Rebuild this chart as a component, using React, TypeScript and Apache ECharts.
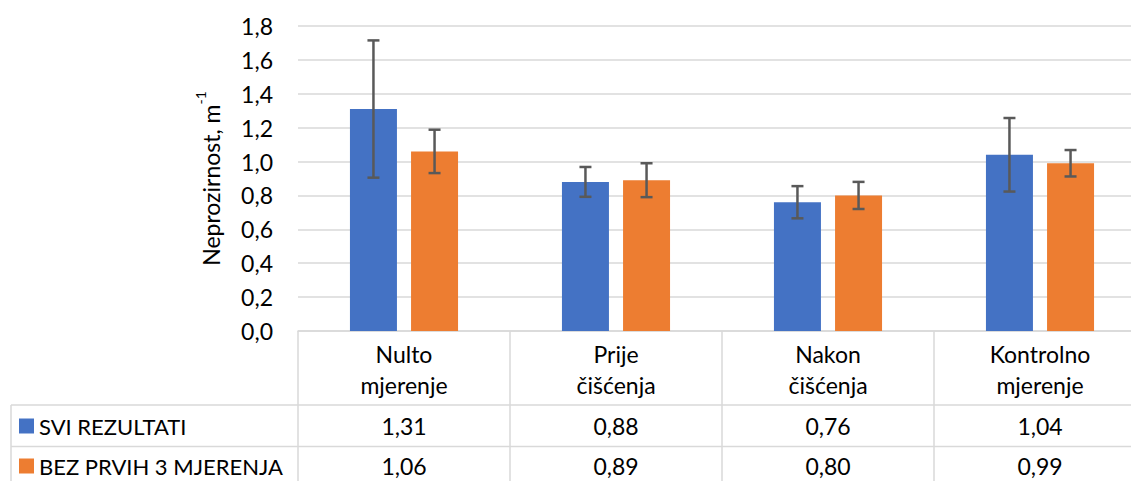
import React, { useEffect, useRef } from "react";
import * as echarts from "echarts";

const categories = ["Nulto\nmjerenje", "Prije\nčišćenja", "Nakon\nčišćenja", "Kontrolno\nmjerenje"];
const seriesNames = ["SVI REZULTATI", "BEZ PRVIH 3 MJERENJA"];
const valuesA = [1.31, 0.88, 0.76, 1.04];
const valuesB = [1.06, 0.89, 0.8, 0.99];
const errorsA = [0.405, 0.088, 0.095, 0.217];
const errorsB = [0.128, 0.1, 0.08, 0.078];
const yMin = 0;
const yMax = 1.8;
const yInterval = 0.2;

const FONT = "Lato, 'Noto Sans', sans-serif";
const BLUE = "#4472C4";
const ORANGE = "#ED7D31";
const GRID = "#d9d9d9";
const TEXT = "#000000";
const FS = 23;

const fmt = (v: number, d: number) => v.toFixed(d).replace(".", ",");

const BAR_W = 47;
const BAR_GAP = 0.3;

export default function App() {
  const ref = useRef<HTMLDivElement>(null);
  useEffect(() => {
    if (!ref.current) return;
    const chart = echarts.init(ref.current, null, { renderer: "svg" });
    const gridLeft = 298;
    const gridTop = 26;
    const gridHeight = 305;
    const gridWidth = 848;
    const half = (BAR_W * 2 + BAR_W * BAR_GAP) / 2;
    const offsets = [-half + BAR_W / 2, half - BAR_W / 2];

    const errorSeries = (vals: number[], errs: number[], idx: number) => ({
      type: "custom",
      z: 10,
      silent: true,
      data: vals.map((v, i) => [i, v, errs[i]]),
      renderItem: (params: any, api: any) => {
        const i = api.value(0);
        const v = api.value(1);
        const e = api.value(2);
        const top = api.coord([i, v + e]);
        const bot = api.coord([i, v - e]);
        const x = top[0] + offsets[idx];
        const cap = 6;
        const style = { stroke: "#595959", lineWidth: 2.5 };
        return {
          type: "group",
          children: [
            { type: "line", shape: { x1: x, y1: top[1], x2: x, y2: bot[1] }, style },
            { type: "line", shape: { x1: x - cap, y1: top[1], x2: x + cap, y2: top[1] }, style },
            { type: "line", shape: { x1: x - cap, y1: bot[1], x2: x + cap, y2: bot[1] }, style },
          ],
        };
      },
    });

    const valueAxis = (vals: number[], offset: number) => ({
      type: "category",
      data: vals.map((v) => fmt(v, 2)),
      position: "bottom",
      offset,
      axisLine: { show: false },
      axisTick: { show: false },
      axisLabel: {
        margin: 0,
        verticalAlign: "middle",
        fontFamily: FONT,
        fontSize: FS,
        color: TEXT,
      },
    });

    const legendItem = (name: string, top: number) => ({
      data: [name],
      left: 19,
      top,
      padding: 0,
      icon: "rect",
      itemWidth: 15,
      itemHeight: 15,
      itemGap: 6,
      selectedMode: false,
      textStyle: { fontFamily: FONT, fontSize: FS - 1, color: TEXT, lineHeight: 22 },
    });

    chart.setOption({
      animation: false,
      grid: { left: gridLeft, top: gridTop, width: gridWidth, height: gridHeight },
      legend: [legendItem(seriesNames[0], 415), legendItem(seriesNames[1], 455)],
      xAxis: [
        {
          type: "category",
          data: categories,
          axisLine: { show: true, lineStyle: { color: GRID, width: 1.5 } },
          axisTick: { show: true, length: 160, lineStyle: { color: GRID, width: 1.5 } },
          axisLabel: {
            margin: 7,
            fontFamily: FONT,
            fontSize: FS,
            lineHeight: 31,
            color: TEXT,
          },
        },
        valueAxis(valuesA, 95),
        valueAxis(valuesB, 135),
      ],
      yAxis: {
        type: "value",
        min: yMin,
        max: yMax,
        interval: yInterval,
        axisLine: { show: false },
        axisTick: { show: false },
        splitLine: { lineStyle: { color: GRID, width: 1.5 } },
        axisLabel: {
          margin: 25,
          fontFamily: FONT,
          fontSize: FS,
          color: TEXT,
          formatter: (v: number) => fmt(v, 1),
        },
        name: "{a|Neprozirnost, m}{b|-1}",
        nameLocation: "middle",
        nameGap: 76,
        nameRotate: 90,
        nameTextStyle: {
          rich: {
            a: { fontFamily: FONT, fontSize: 23, color: TEXT, lineHeight: 29, verticalAlign: "bottom" },
            b: { fontFamily: FONT, fontSize: 14, color: TEXT, lineHeight: 29, verticalAlign: "top" },
          },
        },
      },
      graphic: [
        {
          type: "line",
          shape: { x1: 11, y1: 405, x2: 1170, y2: 405 },
          style: { stroke: GRID, lineWidth: 1.5 },
        },
        {
          type: "line",
          shape: { x1: 11, y1: 446.5, x2: 1170, y2: 446.5 },
          style: { stroke: GRID, lineWidth: 1.5 },
        },
        {
          type: "line",
          shape: { x1: 11, y1: 405, x2: 11, y2: 481 },
          style: { stroke: GRID, lineWidth: 1.5 },
        },
      ],
      series: [
        {
          name: seriesNames[0],
          type: "bar",
          data: valuesA,
          barWidth: BAR_W,
          barGap: `${BAR_GAP * 100}%`,
          itemStyle: { color: BLUE },
        },
        {
          name: seriesNames[1],
          type: "bar",
          data: valuesB,
          barWidth: BAR_W,
          itemStyle: { color: ORANGE },
        },
        errorSeries(valuesA, errorsA, 0),
        errorSeries(valuesB, errorsB, 1),
      ],
    });
    return () => chart.dispose();
  }, []);
  return (
    <div style={{ position: "absolute", left: 0, top: 0, width: 1131, height: 481, overflow: "hidden" }}>
      <div ref={ref} style={{ width: 1180, height: 481 }} />
    </div>
  );
}
